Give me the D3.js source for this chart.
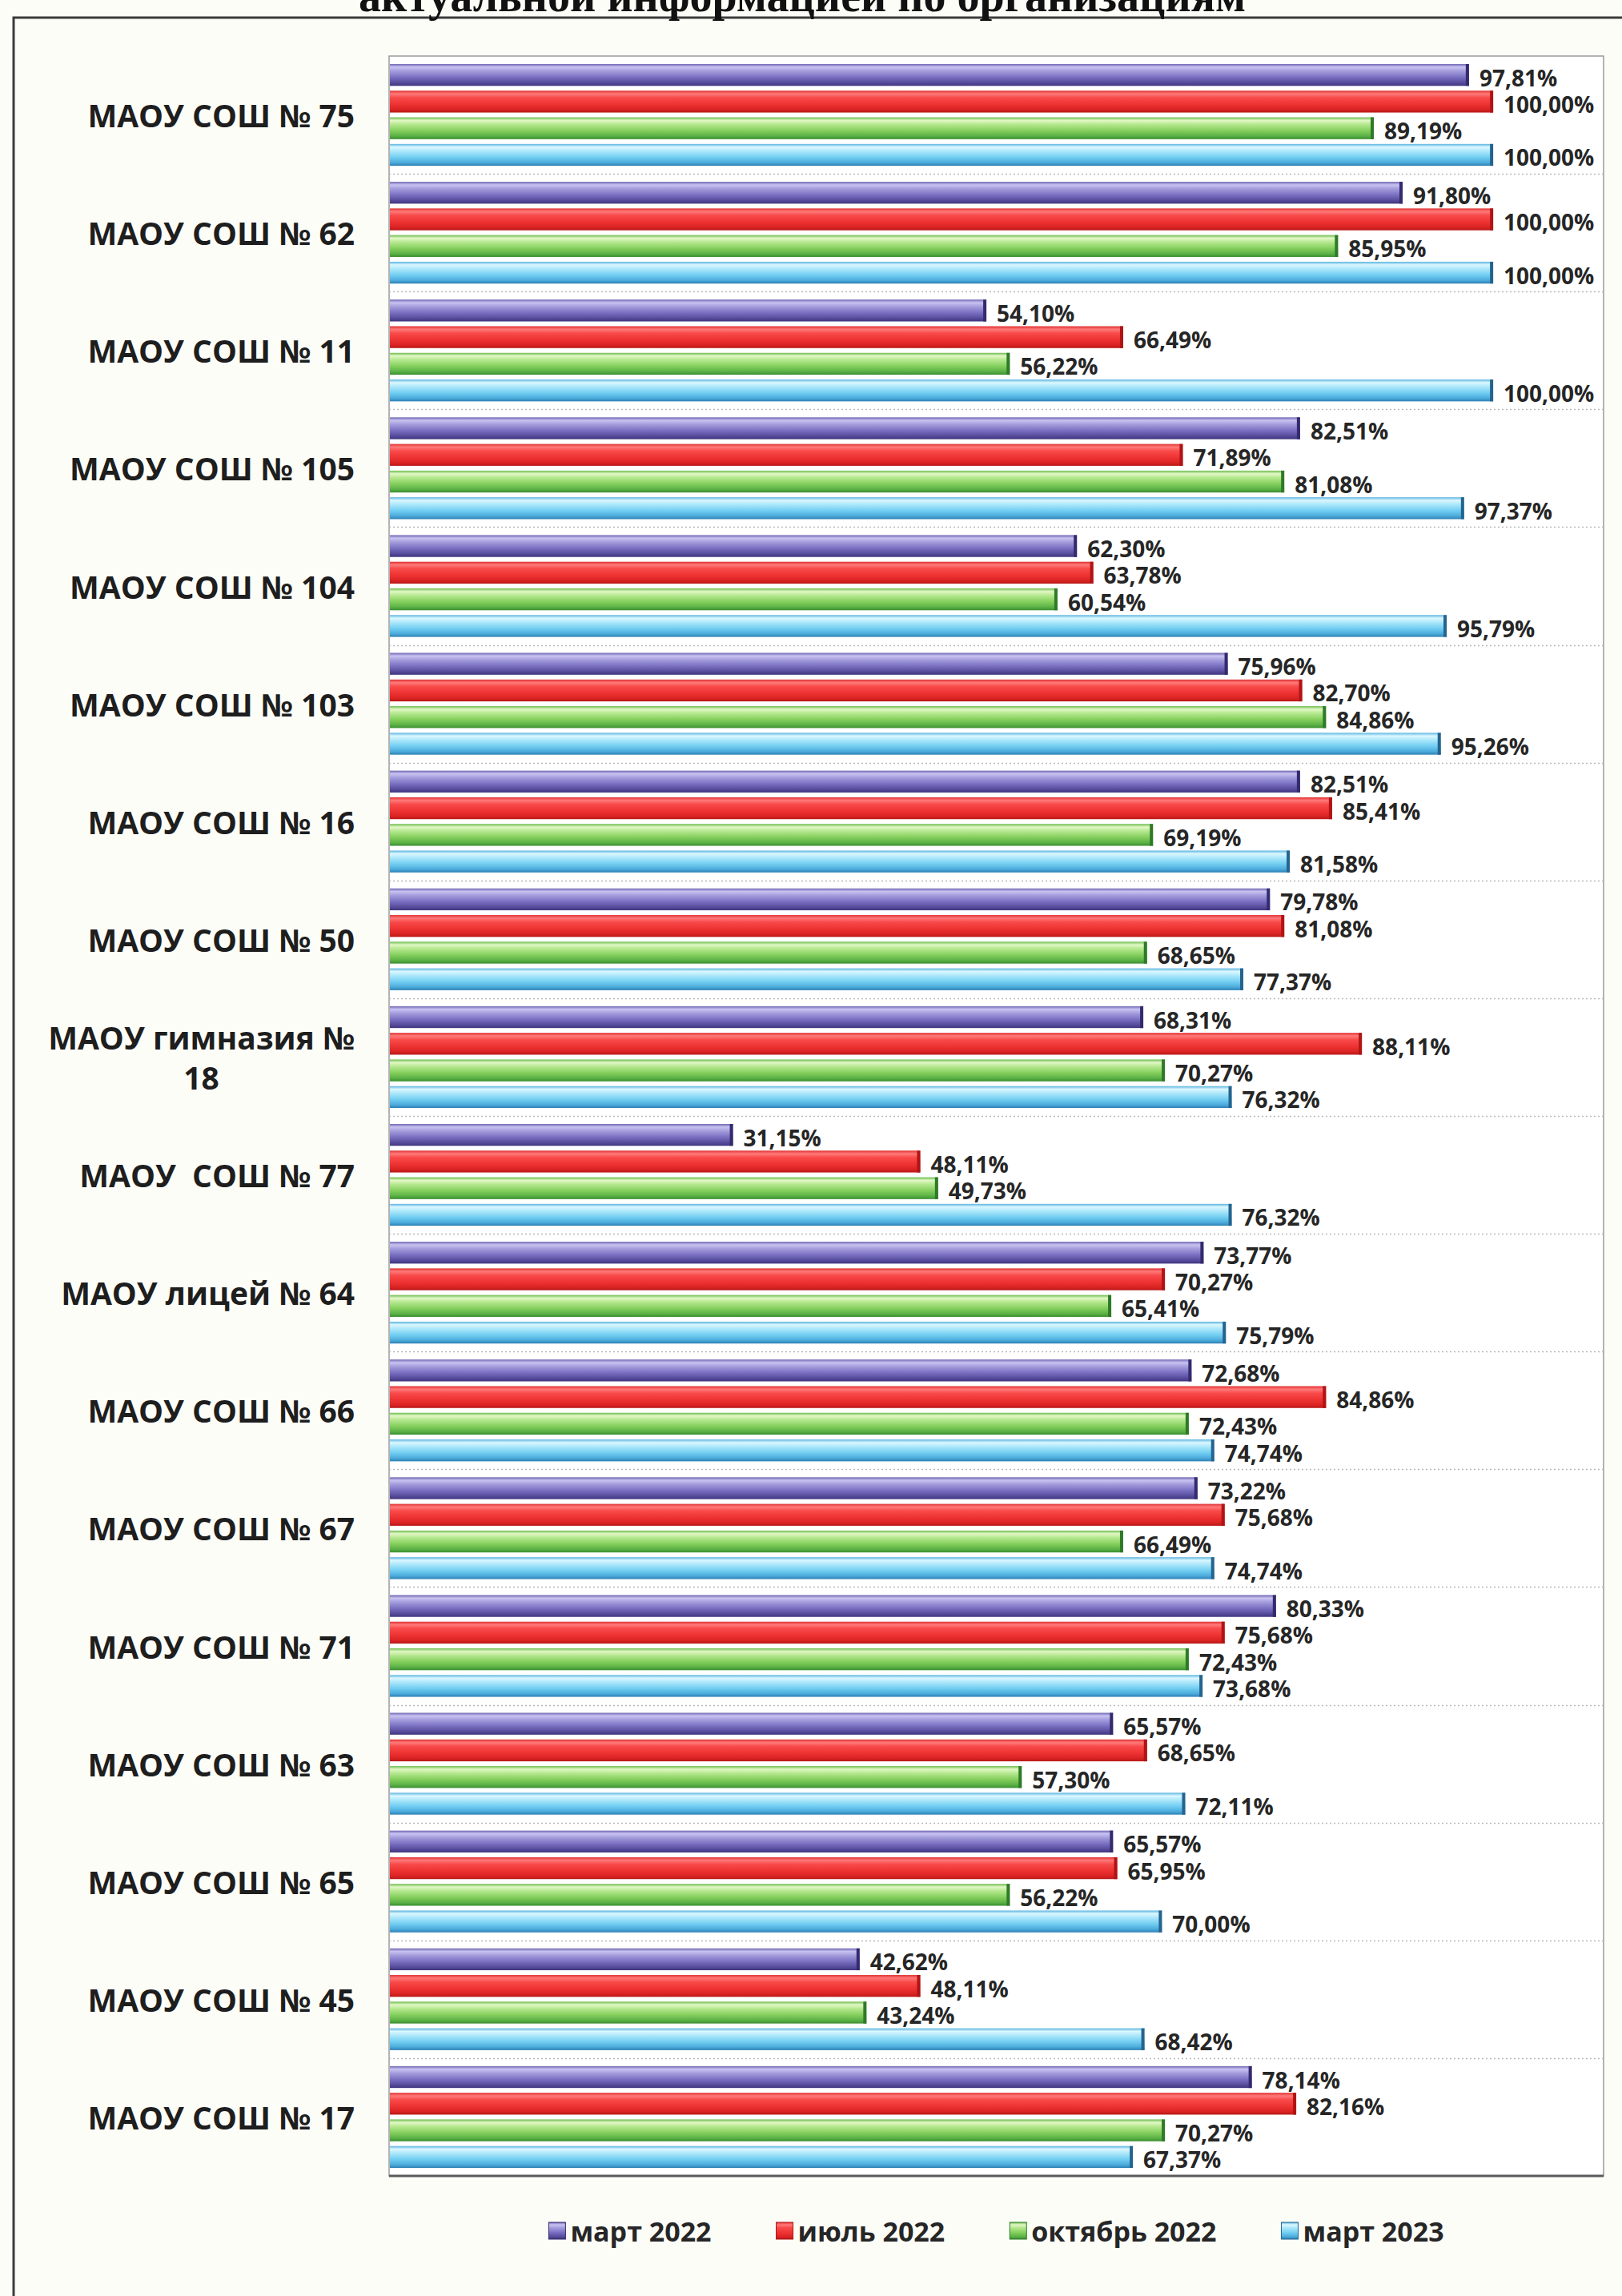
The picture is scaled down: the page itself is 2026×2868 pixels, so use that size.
<!DOCTYPE html>
<html>
<head>
<meta charset="utf-8">
<script src="https://cdn.jsdelivr.net/npm/d3@7"></script>
<style>
body { margin: 0; background: #fdfdf8; }
text { font-family: "Open Sans", sans-serif; }
</style>
</head>
<body>
<div id="chart"></div>
<script>
var W = 2026
var H = 2868

// data
var categories = ["МАОУ СОШ № 75","МАОУ СОШ № 62","МАОУ СОШ № 11","МАОУ СОШ № 105","МАОУ СОШ № 104",
    "МАОУ СОШ № 103","МАОУ СОШ № 16","МАОУ СОШ № 50","МАОУ гимназия № 18","МАОУ  СОШ № 77",
    "МАОУ лицей № 64","МАОУ СОШ № 66","МАОУ СОШ № 67","МАОУ СОШ № 71","МАОУ СОШ № 63",
    "МАОУ СОШ № 65","МАОУ СОШ № 45","МАОУ СОШ № 17"]
var seriesNames = ["март 2022","июль 2022","октябрь 2022","март 2023"]
var mar2022 = [97.81,91.80,54.10,82.51,62.30,75.96,82.51,79.78,68.31,31.15,73.77,72.68,73.22,80.33,65.57,65.57,42.62,78.14]
var jul2022 = [100.00,100.00,66.49,71.89,63.78,82.70,85.41,81.08,88.11,48.11,70.27,84.86,75.68,75.68,68.65,65.95,48.11,82.16]
var oct2022 = [89.19,85.95,56.22,81.08,60.54,84.86,69.19,68.65,70.27,49.73,65.41,72.43,66.49,72.43,57.30,56.22,43.24,70.27]
var mar2023 = [100.00,100.00,100.00,97.37,95.79,95.26,81.58,77.37,76.32,76.32,75.79,74.74,74.74,73.68,72.11,70.00,68.42,67.37]
var seriesValues = [mar2022, jul2022, oct2022, mar2023]
var title = "актуальной информацией по организациям"

// colours: gradient stops per series (top -> bottom) and the darker end cap
var barStops = [
    ["#6e66b2","#c9c3f2","#a49ddc","#7a70c2","#574c9c","#3f357e"],
    ["#e03030","#ff7a7a","#f84a4a","#ef3434","#dc2424","#b81818"],
    ["#6cbc4c","#e2f8c6","#b6e890","#86d05e","#5cb246","#3a8e30"],
    ["#5ab4e0","#dcf7ff","#aee8fb","#74cff2","#4cacdc","#2e80b4"]
]
var capColors = ["#342a6e","#b01414","#2e7a28","#25648e"]

var plotL = 486, plotR = 2003, plotT = 70, plotB = 2718

var svg = d3.select("#chart").append("svg")
    .attr("width", W)
    .attr("height", H)

var defs = svg.append("defs")
barStops.forEach(function(stops, i){
    var g = defs.append("linearGradient")
        .attr("id", "grad" + i)
        .attr("x1", 0).attr("y1", 0).attr("x2", 0).attr("y2", 1)
    var offs = [0, 0.14, 0.32, 0.6, 0.85, 1]
    stops.forEach(function(c, k){
        g.append("stop").attr("offset", offs[k]).attr("stop-color", c)
    })
})

svg.append("rect").attr("width", W).attr("height", H).attr("fill", "#fdfdf8")

// outer frame (right and bottom edges fall outside the picture)
svg.append("path")
    .attr("d", "M17," + (H + 5) + "V22H" + (W + 5))
    .attr("fill", "none")
    .attr("stroke", "#3c3c3c")
    .attr("stroke-width", 3)

// title, cut by the top edge like the scan
svg.append("text")
    .attr("x", 1002)
    .attr("y", 14)
    .attr("text-anchor", "middle")
    .style("font-family", "'Liberation Serif', serif")
    .style("font-weight", "bold")
    .style("font-size", "56px")
    .attr("fill", "#111")
    .text(title)

var x = d3.scaleLinear().domain([0, 110]).range([plotL, plotR])
var y0 = d3.scaleBand().domain(categories).range([plotT, plotB])
var y1 = d3.scaleBand().domain(d3.range(seriesNames.length))
    .range([0, y0.bandwidth()])
    .paddingInner(0.18)
    .paddingOuter(0.3)

var fmt = d3.formatLocale({decimal: ",", thousands: " ", grouping: [3], currency: ["", ""]}).format(".2f")

// plot background and border
svg.append("rect")
    .attr("x", plotL).attr("y", plotT)
    .attr("width", plotR - plotL).attr("height", plotB - plotT)
    .attr("fill", "#ffffff")
    .attr("stroke", "#9a9a9a")
    .attr("stroke-width", 1.5)

// dotted separators between organisations
svg.selectAll(".sep")
    .data(categories.slice(1))
    .enter()
    .append("line")
    .attr("class", "sep")
    .attr("x1", plotL).attr("x2", plotR)
    .attr("y1", function(d){ return Math.round(y0(d)) + 0.5 })
    .attr("y2", function(d){ return Math.round(y0(d)) + 0.5 })
    .attr("stroke", "#b8b8b8")
    .attr("stroke-width", 1.5)
    .attr("stroke-dasharray", "2,3")

svg.append("line")
    .attr("x1", plotL).attr("x2", plotR)
    .attr("y1", plotB).attr("y2", plotB)
    .attr("stroke", "#5a5a5a")
    .attr("stroke-width", 3)

// bars
var flat = []
categories.forEach(function(c, ci){
    seriesValues.forEach(function(vals, si){
        flat.push({cat: c, s: si, v: vals[ci]})
    })
})

var bars = svg.selectAll(".bar")
    .data(flat)
    .enter()
    .append("g")
    .attr("class", "bar")
    .attr("transform", function(d){ return "translate(0," + (y0(d.cat) + y1(d.s)) + ")" })

bars.append("rect")
    .attr("x", x(0) + 1)
    .attr("y", 0)
    .attr("width", function(d){ return x(d.v) - x(0) - 1 })
    .attr("height", y1.bandwidth())
    .attr("fill", function(d){ return "url(#grad" + d.s + ")" })

bars.append("rect")
    .attr("x", function(d){ return x(d.v) - 4 })
    .attr("y", 0)
    .attr("width", 4)
    .attr("height", y1.bandwidth())
    .attr("fill", function(d){ return capColors[d.s] })

bars.append("text")
    .attr("x", function(d){ return x(d.v) + 13 })
    .attr("y", y1.bandwidth() / 2 + 3)
    .attr("dominant-baseline", "central")
    .style("font-size", "28px")
    .style("font-weight", "bold")
    .attr("fill", "#262626")
    .text(function(d){ return fmt(d.v) + "%" })

// category labels, wrapped like the original
var labelRight = 443
var labelMax = 390
var lineH = 50
var labels = svg.selectAll(".cat")
    .data(categories)
    .enter()
    .append("text")
    .attr("class", "cat")
    .style("font-size", "39px")
    .style("font-weight", "bold")
    .style("white-space", "pre")
    .attr("fill", "#1e1e1e")
    .attr("text-anchor", "middle")

labels.each(function(d){
    var t = d3.select(this)
    var words = d.split(" ")
    var lines = []
    var cur = ""
    var probe = t.append("tspan")
    words.forEach(function(w){
        var test = cur === "" ? w : cur + " " + w
        probe.text(test)
        if (probe.node().getComputedTextLength() > labelMax && cur !== "") {
            lines.push(cur)
            cur = w
        } else {
            cur = test
        }
    })
    lines.push(cur)
    var widths = lines.map(function(l){ probe.text(l); return probe.node().getComputedTextLength() })
    probe.remove()
    var blockW = d3.max(widths)
    var cx = labelRight - blockW / 2
    var cy = y0(d) + y0.bandwidth() / 2
    lines.forEach(function(l, i){
        t.append("tspan")
            .attr("x", cx)
            .attr("y", cy + (i - (lines.length - 1) / 2) * lineH)
            .attr("dominant-baseline", "central")
            .text(l)
    })
})

// legend
var legend = svg.append("g")
var legendY = 2787
var gap = 81
var items = legend.selectAll(".leg")
    .data(seriesNames)
    .enter()
    .append("g")
    .attr("class", "leg")

items.append("rect")
    .attr("width", 21).attr("height", 21)
    .attr("y", legendY - 11)
    .attr("fill", function(d, i){ return "url(#grad" + i + ")" })
    .attr("stroke", function(d, i){ return capColors[i] })
    .attr("stroke-width", 1)

items.append("text")
    .attr("x", 27)
    .attr("y", legendY)
    .attr("dominant-baseline", "central")
    .style("font-size", "34px")
    .style("font-weight", "bold")
    .attr("fill", "#262626")
    .text(function(d){ return d })

var pos = 0
var offsets = []
items.each(function(){
    offsets.push(pos)
    pos += this.getBBox().width + gap
})
var total = pos - gap
var start = (plotL + plotR) / 2 - total / 2
items.attr("transform", function(d, i){ return "translate(" + (start + offsets[i]) + ",0)" })
</script>
</body>
</html>
